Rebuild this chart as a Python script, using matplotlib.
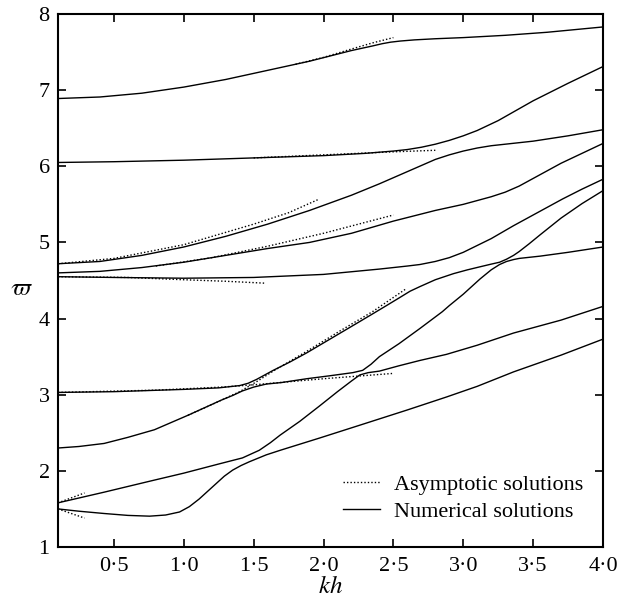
import matplotlib
matplotlib.use("Agg")
import matplotlib.pyplot as plt
from matplotlib.lines import Line2D

plt.rcParams['font.family'] = ['Liberation Serif', 'DejaVu Serif']
plt.rcParams['mathtext.fontset'] = 'stix'

# ---- numerical solutions (branches ordered from top) ----
b1_x = [0.1, 0.4, 0.7, 1.0, 1.3, 1.6, 1.9, 2.2, 2.35, 2.42, 2.48, 2.55, 2.65, 2.8, 3.0, 3.3, 3.6, 4.0]
b1_y = [6.89, 6.91, 6.96, 7.04, 7.14, 7.26, 7.38, 7.52, 7.58, 7.61, 7.63, 7.645, 7.66, 7.675, 7.69, 7.72, 7.76, 7.83]

b2_x = [0.1, 0.5, 1.0, 1.5, 2.0, 2.3, 2.5, 2.6, 2.7, 2.8, 2.9, 3.0, 3.1, 3.25, 3.5, 3.75, 4.0]
b2_y = [6.05, 6.06, 6.08, 6.11, 6.14, 6.17, 6.20, 6.22, 6.25, 6.29, 6.34, 6.40, 6.47, 6.60, 6.86, 7.09, 7.31]

b3_x = [0.1, 0.4, 0.7, 1.0, 1.3, 1.6, 1.9, 2.2, 2.4, 2.6, 2.8, 2.9, 3.0, 3.1, 3.2, 3.35, 3.5, 3.75, 4.0]
b3_y = [4.72, 4.75, 4.83, 4.94, 5.08, 5.24, 5.42, 5.62, 5.77, 5.93, 6.09, 6.15, 6.20, 6.24, 6.27, 6.30, 6.33, 6.40, 6.48]

b4_x = [0.1, 0.4, 0.7, 1.0, 1.3, 1.6, 1.9, 2.2, 2.5, 2.8, 3.0, 3.2, 3.3, 3.4, 3.5, 3.6, 3.7, 3.85, 4.0]
b4_y = [4.60, 4.62, 4.67, 4.74, 4.83, 4.92, 5.00, 5.12, 5.28, 5.42, 5.50, 5.60, 5.66, 5.74, 5.84, 5.94, 6.04, 6.17, 6.30]

b5_x = [0.1, 0.5, 1.0, 1.5, 2.0, 2.4, 2.6, 2.69, 2.8, 2.9, 3.0, 3.1, 3.2, 3.36, 3.5, 3.71, 3.85, 4.0]
b5_y = [4.55, 4.54, 4.53, 4.54, 4.58, 4.65, 4.69, 4.71, 4.75, 4.80, 4.87, 4.96, 5.05, 5.22, 5.36, 5.57, 5.70, 5.83]

b6_x = [0.1, 0.5, 1.0, 1.25, 1.4, 1.46, 1.52, 1.58, 1.64, 1.76, 1.88, 2.0, 2.12, 2.24, 2.35, 2.45, 2.54, 2.62, 2.69, 2.8, 2.93, 3.03, 3.12, 3.2, 3.26, 3.31, 3.36, 3.4, 3.47, 3.55, 3.7, 3.85, 4.0]
b6_y = [3.03, 3.04, 3.07, 3.09, 3.12, 3.15, 3.20, 3.26, 3.32, 3.43, 3.55, 3.68, 3.81, 3.94, 4.06, 4.17, 4.27, 4.36, 4.42, 4.51, 4.59, 4.64, 4.68, 4.715, 4.74, 4.78, 4.83, 4.88, 4.98, 5.10, 5.32, 5.51, 5.68]

b7_x = [0.1, 0.25, 0.43, 0.6, 0.79, 1.03, 1.27, 1.35, 1.42, 1.5, 1.59, 1.7, 1.88, 2.05, 2.21, 2.28, 2.34, 2.4, 2.54, 2.69, 2.85, 2.9, 3.0, 3.12, 3.2, 3.26, 3.31, 3.36, 3.4, 3.55, 3.75, 4.0]
b7_y = [2.30, 2.32, 2.36, 2.44, 2.54, 2.73, 2.93, 2.99, 3.05, 3.10, 3.14, 3.16, 3.21, 3.25, 3.29, 3.32, 3.40, 3.50, 3.67, 3.87, 4.09, 4.17, 4.32, 4.52, 4.64, 4.71, 4.75, 4.775, 4.79, 4.82, 4.87, 4.94]

b8_x = [0.1, 0.43, 0.77, 1.0, 1.25, 1.42, 1.54, 1.62, 1.69, 1.83, 1.97, 2.1, 2.2, 2.26, 2.32, 2.4, 2.54, 2.69, 2.88, 3.1, 3.36, 3.7, 4.0]
b8_y = [1.58, 1.72, 1.87, 1.97, 2.09, 2.17, 2.27, 2.37, 2.47, 2.65, 2.85, 3.04, 3.18, 3.26, 3.29, 3.31, 3.38, 3.45, 3.53, 3.65, 3.81, 3.98, 4.16]

b9_x = [0.1, 0.25, 0.43, 0.6, 0.755, 0.87, 0.97, 1.04, 1.11, 1.17, 1.23, 1.29, 1.35, 1.41, 1.47, 1.59, 1.69, 1.83, 1.97, 2.26, 2.6, 2.88, 3.1, 3.36, 3.7, 4.0]
b9_y = [1.50, 1.47, 1.44, 1.415, 1.405, 1.42, 1.46, 1.53, 1.63, 1.73, 1.83, 1.93, 2.01, 2.07, 2.12, 2.21, 2.27, 2.35, 2.43, 2.60, 2.80, 2.97, 3.11, 3.30, 3.52, 3.73]

# ---- asymptotic solutions ----
a1_x = [1.8, 2.0, 2.2, 2.35, 2.5]
a1_y = [7.34, 7.43, 7.54, 7.62, 7.69]
a2_x = [1.5, 2.0, 2.5, 2.8]
a2_y = [6.11, 6.15, 6.19, 6.21]
a3_x = [0.1, 0.5, 1.0, 1.5, 1.75, 1.97]
a3_y = [4.72, 4.79, 4.97, 5.24, 5.39, 5.57]
a4_x = [0.8, 1.2, 1.6, 2.0, 2.5]
a4_y = [4.69, 4.80, 4.95, 5.12, 5.36]
a5_x = [0.1, 0.6, 1.0, 1.3, 1.58]
a5_y = [4.55, 4.54, 4.51, 4.49, 4.465]
a6_x = [0.1, 0.8, 1.27, 1.5, 2.0, 2.5]
a6_y = [3.03, 3.06, 3.10, 3.13, 3.21, 3.28]
a7_x = [1.03, 1.2, 1.4, 1.52, 1.64, 1.88, 2.12, 2.35, 2.59]
a7_y = [2.73, 2.87, 3.04, 3.17, 3.31, 3.57, 3.84, 4.09, 4.39]
a8_x = [0.1, 0.29]
a8_y = [1.58, 1.71]
a9_x = [0.1, 0.29]
a9_y = [1.50, 1.38]

xticks = [0.5, 1.0, 1.5, 2.0, 2.5, 3.0, 3.5, 4.0]
xticklabels = ['0·5', '1·0', '1·5', '2·0', '2·5', '3·0', '3·5', '4·0']
yticks = [1, 2, 3, 4, 5, 6, 7, 8]
yticklabels = ['1', '2', '3', '4', '5', '6', '7', '8']

numerical = [(b1_x, b1_y), (b2_x, b2_y), (b3_x, b3_y), (b4_x, b4_y), (b5_x, b5_y),
             (b6_x, b6_y), (b7_x, b7_y), (b8_x, b8_y), (b9_x, b9_y)]
asymptotic = [(a1_x, a1_y), (a2_x, a2_y), (a3_x, a3_y), (a4_x, a4_y), (a5_x, a5_y),
              (a6_x, a6_y), (a7_x, a7_y), (a8_x, a8_y), (a9_x, a9_y)]

fig = plt.figure(figsize=(6.17, 6.01), dpi=100)
ax = fig.add_axes([58/617, 1 - 547/601, (603-58)/617, (547-14)/601])

dot_style = (0, (1, 1.5))
for x, y in asymptotic:
    ax.plot(x, y, color='black', lw=1.0, linestyle=dot_style)
for x, y in numerical:
    ax.plot(x, y, color='black', lw=1.0, solid_joinstyle='round')

ax.set_xlim(0.1, 4.0)
ax.set_ylim(1, 8)
ax.set_xticks(xticks)
ax.set_xticklabels(xticklabels)
ax.set_yticks(yticks)
ax.set_yticklabels(yticklabels)
ax.tick_params(direction='in', length=6, width=1.2, top=True, right=True,
               labelsize=16, color='black')
ax.tick_params(axis='x', pad=7)
ax.tick_params(axis='y', pad=6)
for s in ax.spines.values():
    s.set_linewidth(1.5)

ax.set_xlabel('$kh$', fontsize=18, labelpad=0)
ax.text(-0.068, 0.484, r'$\varpi$', transform=ax.transAxes, fontsize=18,
        ha='center', va='center')

handles = [Line2D([], [], color='black', lw=1.0, linestyle=dot_style),
           Line2D([], [], color='black', lw=1.0)]
ax.legend(handles, ['Asymptotic solutions', 'Numerical solutions'],
          loc='lower right', bbox_to_anchor=(1.0, 0.009), frameon=False,
          fontsize=16, handlelength=1.67, handletextpad=0.6, labelspacing=0.3,
          borderaxespad=0.5)

fig.savefig('out.png', dpi=100)
